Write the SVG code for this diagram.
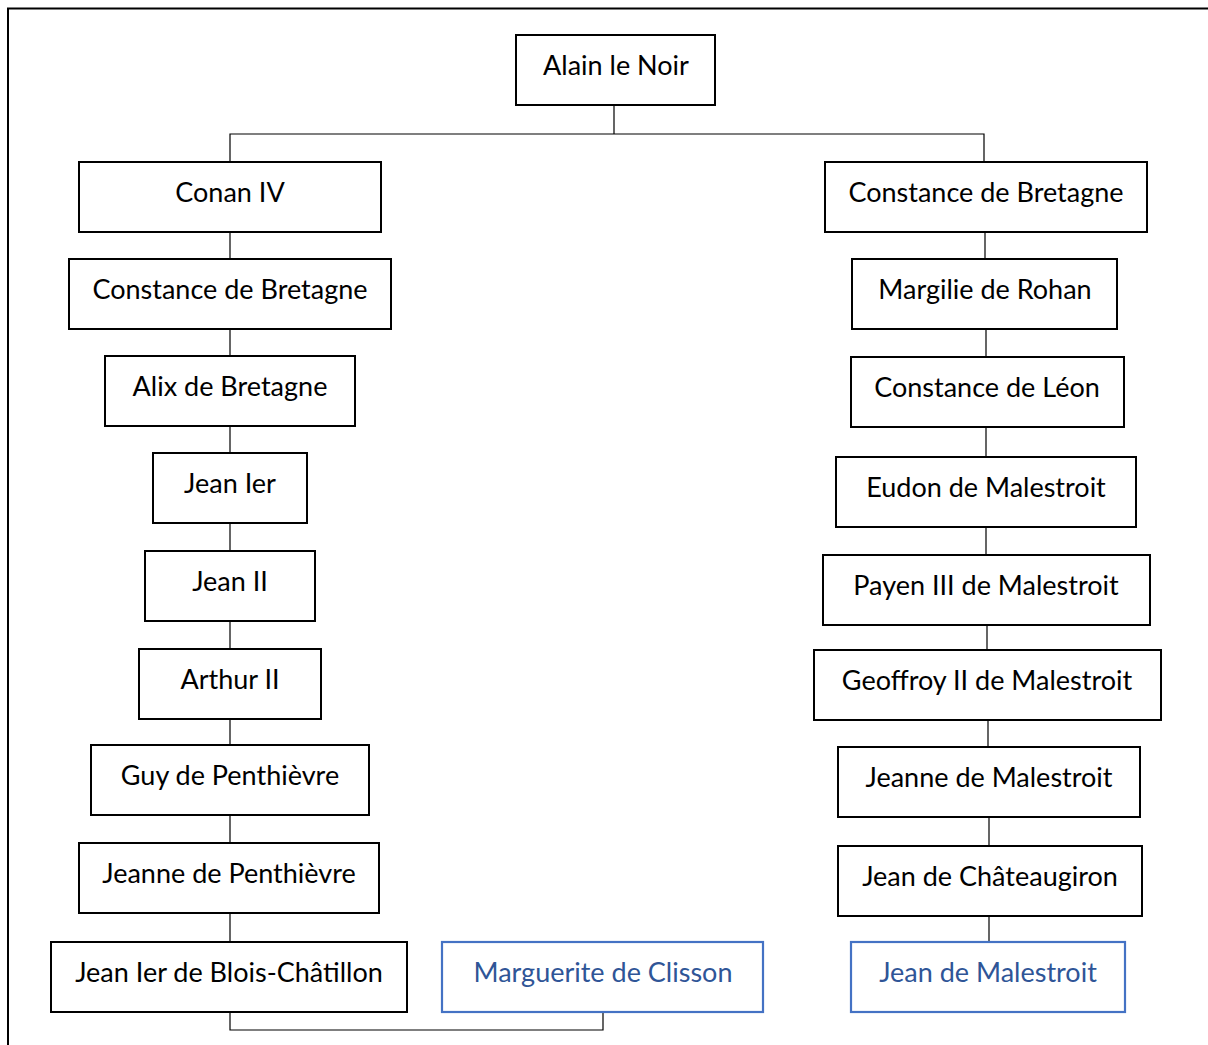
<svg xmlns="http://www.w3.org/2000/svg" width="1208" height="1045" viewBox="0 0 1208 1045">
<style>
.n rect{fill:#fff;stroke:#000;stroke-width:2}
.n text{font-family:Lato,"Open Sans","Liberation Sans",sans-serif;font-size:27px;fill:#000;text-anchor:middle}
.b rect{stroke:#4472C4;stroke-width:2.2}
.b text{fill:#2F5597}
.c{fill:none;stroke:#000;stroke-width:1.2}
</style>
<rect x="0" y="0" width="1208" height="1045" fill="#fff"/>
<path d="M8 1045V8.5H1208" fill="none" stroke="#000" stroke-width="2"/>
<g id="connectors" class="c">
<path d="M614 105V134M230 162V134H984V162"/>
<path d="M230 232V259M230 329V356M230 426V453M230 523V551M230 621V649M230 719V745M230 815V843M230 913V942"/>
<path d="M230 1012V1030H603V1012"/>
<path d="M985 232V259M986 329V357M986 427V457M986 527V555M987 625V650M988 720V747M989 817V846M989 916V942"/>
</g>
<g id="alain" class="n"><rect x="516" y="35" width="199" height="70"/><text x="616" y="75">Alain le Noir</text></g>
<g id="conan4" class="n"><rect x="79" y="162" width="302" height="70"/><text x="230" y="202">Conan IV</text></g>
<g id="constanceL" class="n"><rect x="69" y="259" width="322" height="70"/><text x="230" y="299">Constance de Bretagne</text></g>
<g id="alix" class="n"><rect x="105" y="356" width="250" height="70"/><text x="230" y="396">Alix de Bretagne</text></g>
<g id="jean1" class="n"><rect x="153" y="453" width="154" height="70"/><text x="230" y="493">Jean Ier</text></g>
<g id="jean2" class="n"><rect x="145" y="551" width="170" height="70"/><text x="230" y="591">Jean II</text></g>
<g id="arthur2" class="n"><rect x="139" y="649" width="182" height="70"/><text x="230" y="689">Arthur II</text></g>
<g id="guy" class="n"><rect x="91" y="745" width="278" height="70"/><text x="230" y="785">Guy de Penthièvre</text></g>
<g id="jeanneP" class="n"><rect x="79" y="843" width="300" height="70"/><text x="229" y="883">Jeanne de Penthièvre</text></g>
<g id="jeanBlois" class="n"><rect x="51" y="942" width="356" height="70"/><text x="229" y="982">Jean Ier de Blois-Châtillon</text></g>
<g id="marguerite" class="n b"><rect x="442" y="942" width="321" height="70"/><text x="603" y="982">Marguerite de Clisson</text></g>
<g id="constanceR" class="n"><rect x="825" y="162" width="322" height="70"/><text x="986" y="202">Constance de Bretagne</text></g>
<g id="margilie" class="n"><rect x="852" y="259" width="265" height="70"/><text x="985" y="299">Margilie de Rohan</text></g>
<g id="constanceLeon" class="n"><rect x="851" y="357" width="273" height="70"/><text x="987" y="397">Constance de Léon</text></g>
<g id="eudon" class="n"><rect x="836" y="457" width="300" height="70"/><text x="986" y="497">Eudon de Malestroit</text></g>
<g id="payen" class="n"><rect x="823" y="555" width="327" height="70"/><text x="986" y="595">Payen III de Malestroit</text></g>
<g id="geoffroy" class="n"><rect x="814" y="650" width="347" height="70"/><text x="987" y="690">Geoffroy II de Malestroit</text></g>
<g id="jeanneM" class="n"><rect x="838" y="747" width="302" height="70"/><text x="989" y="787">Jeanne de Malestroit</text></g>
<g id="chateaugiron" class="n"><rect x="838" y="846" width="304" height="70"/><text x="990" y="886">Jean de Châteaugiron</text></g>
<g id="jeanM" class="n b"><rect x="851" y="942" width="274" height="70"/><text x="988" y="982">Jean de Malestroit</text></g>
</svg>
